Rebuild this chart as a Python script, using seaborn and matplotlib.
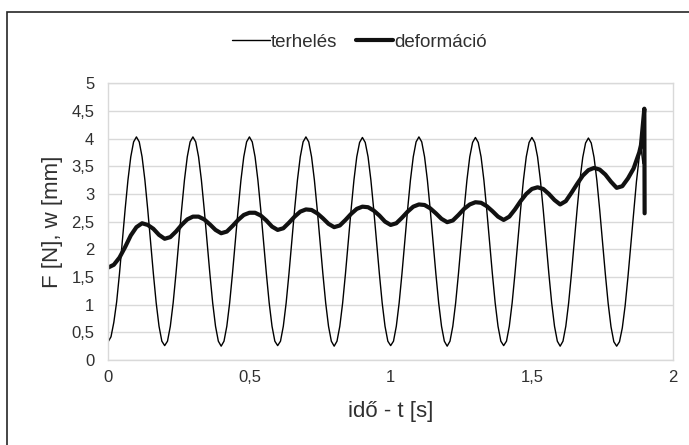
import numpy as np
import pandas as pd
import seaborn as sns
import matplotlib.pyplot as plt
from matplotlib.patches import Rectangle
from matplotlib.ticker import FuncFormatter, MultipleLocator

load_vals = [
    0.33, 0.42, 0.68, 1.05, 1.56, 2.14, 2.72, 3.25, 3.67, 3.94, 4.03,
    3.94, 3.67, 3.25, 2.72, 2.14, 1.56, 1.03, 0.61, 0.34, 0.26,
    0.34, 0.61, 1.03, 1.56, 2.14, 2.72, 3.25, 3.67, 3.94, 4.03,
    3.94, 3.67, 3.25, 2.72, 2.14, 1.56, 1.03, 0.61, 0.34, 0.25,
    0.34, 0.61, 1.03, 1.56, 2.14, 2.72, 3.25, 3.67, 3.94, 4.03,
    3.94, 3.67, 3.25, 2.72, 2.14, 1.56, 1.03, 0.61, 0.34, 0.26,
    0.34, 0.61, 1.03, 1.56, 2.14, 2.72, 3.25, 3.67, 3.94, 4.03,
    3.94, 3.67, 3.25, 2.72, 2.14, 1.56, 1.03, 0.61, 0.34, 0.25,
    0.34, 0.61, 1.03, 1.56, 2.14, 2.72, 3.25, 3.67, 3.93, 4.02,
    3.93, 3.67, 3.25, 2.72, 2.14, 1.56, 1.03, 0.61, 0.34, 0.26,
    0.34, 0.61, 1.03, 1.56, 2.14, 2.72, 3.25, 3.67, 3.94, 4.03,
    3.94, 3.67, 3.25, 2.72, 2.14, 1.56, 1.03, 0.61, 0.34, 0.25,
    0.34, 0.61, 1.03, 1.56, 2.14, 2.72, 3.25, 3.67, 3.93, 4.02,
    3.93, 3.67, 3.25, 2.72, 2.14, 1.56, 1.03, 0.61, 0.34, 0.26,
    0.34, 0.61, 1.03, 1.56, 2.14, 2.72, 3.25, 3.67, 3.93, 4.02,
    3.93, 3.67, 3.25, 2.72, 2.14, 1.56, 1.03, 0.61, 0.34, 0.25,
    0.34, 0.61, 1.03, 1.56, 2.14, 2.72, 3.25, 3.66, 3.92, 4.01,
    3.92, 3.66, 3.24, 2.71, 2.13, 1.55, 1.02, 0.60, 0.33, 0.25,
    0.33, 0.58, 0.98, 1.50, 2.08, 2.68, 3.22, 3.68,
]
load_t = list(np.round(np.arange(len(load_vals)) * 0.01, 3))
load_tail_t = [1.885, 1.893]
load_tail = [3.90, 3.55]

# deformáció - sampled every 0.02 s
def_vals = [
    1.67, 1.72, 1.85, 2.04, 2.25, 2.40, 2.47, 2.44, 2.37, 2.26,
    2.19, 2.22, 2.32, 2.44, 2.54, 2.59, 2.59, 2.54, 2.45, 2.35,
    2.29, 2.32, 2.42, 2.53, 2.62, 2.66, 2.66, 2.61, 2.52, 2.41,
    2.35, 2.38, 2.48, 2.59, 2.68, 2.72, 2.71, 2.65, 2.56, 2.46,
    2.40, 2.43, 2.53, 2.64, 2.73, 2.77, 2.76, 2.70, 2.61, 2.50,
    2.44, 2.47, 2.57, 2.68, 2.77, 2.81, 2.80, 2.74, 2.65, 2.55,
    2.49, 2.52, 2.62, 2.73, 2.81, 2.85, 2.84, 2.78, 2.69, 2.59,
    2.53, 2.59, 2.72, 2.87, 3.00, 3.09, 3.12, 3.09, 3.00, 2.89,
    2.81, 2.87, 3.02, 3.18, 3.33, 3.43, 3.47, 3.44, 3.35, 3.22,
    3.11, 3.14, 3.28, 3.46, 3.75,
]
def_t = list(np.round(np.arange(len(def_vals)) * 0.02, 3))
def_tail_t = [1.886, 1.898, 1.899]
def_tail = [3.88, 4.54, 2.65]

t1 = load_t + load_tail_t
y1 = load_vals + load_tail
t2 = def_t + def_tail_t
y2 = def_vals + def_tail

sns.set_style("white")
plt.rcParams['font.family'] = ['Liberation Sans', 'DejaVu Sans']
txt = '#303030'
grid_c = '#d9d9d9'

fig, ax = plt.subplots(figsize=(6.89, 4.45), dpi=100)
fig.subplots_adjust(left=0.157, right=0.977, top=0.813, bottom=0.191)

sns.lineplot(x=t1, y=y1, ax=ax, color='black', linewidth=1.0,
             sort=False, estimator=None, label='terhelés')
sns.lineplot(x=t2, y=y2, ax=ax, color='#111111', linewidth=3.0,
             sort=False, estimator=None, label='deformáció')

ax.set_xlim(0, 2)
ax.set_ylim(0, 5)
ax.xaxis.set_major_locator(MultipleLocator(0.5))
ax.yaxis.set_major_locator(MultipleLocator(0.5))
comma = FuncFormatter(lambda v, p: f'{v:g}'.replace('.', ','))
ax.xaxis.set_major_formatter(comma)
ax.yaxis.set_major_formatter(comma)
ax.tick_params(length=0, labelsize=12, colors=txt)
ax.tick_params(axis='x', pad=7)
ax.tick_params(axis='y', pad=10)
ax.yaxis.grid(True, color=grid_c, linewidth=1.0)
ax.set_axisbelow(True)
for s in ax.spines.values():
    s.set_color(grid_c)
    s.set_linewidth(1.0)

ax.set_xlabel('idő - t [s]', fontsize=16, color=txt, labelpad=12)
ax.set_ylabel('F [N], w [mm]', fontsize=16, color=txt, labelpad=6)

leg = ax.legend(loc='center', bbox_to_anchor=(0.522, 0.905),
                bbox_transform=fig.transFigure, ncol=2, frameon=False,
                fontsize=13.5, handlelength=2.0, handletextpad=0.05,
                columnspacing=1.0)
for t in leg.get_texts():
    t.set_color(txt)

# outer chart frame (right and bottom edges run off the picture)
fig.patches.append(Rectangle((0.010, -0.1), 1.2, 1.073, transform=fig.transFigure,
                             fill=False, edgecolor='#262626', linewidth=1.2))

fig.savefig('out.png', dpi=100)
